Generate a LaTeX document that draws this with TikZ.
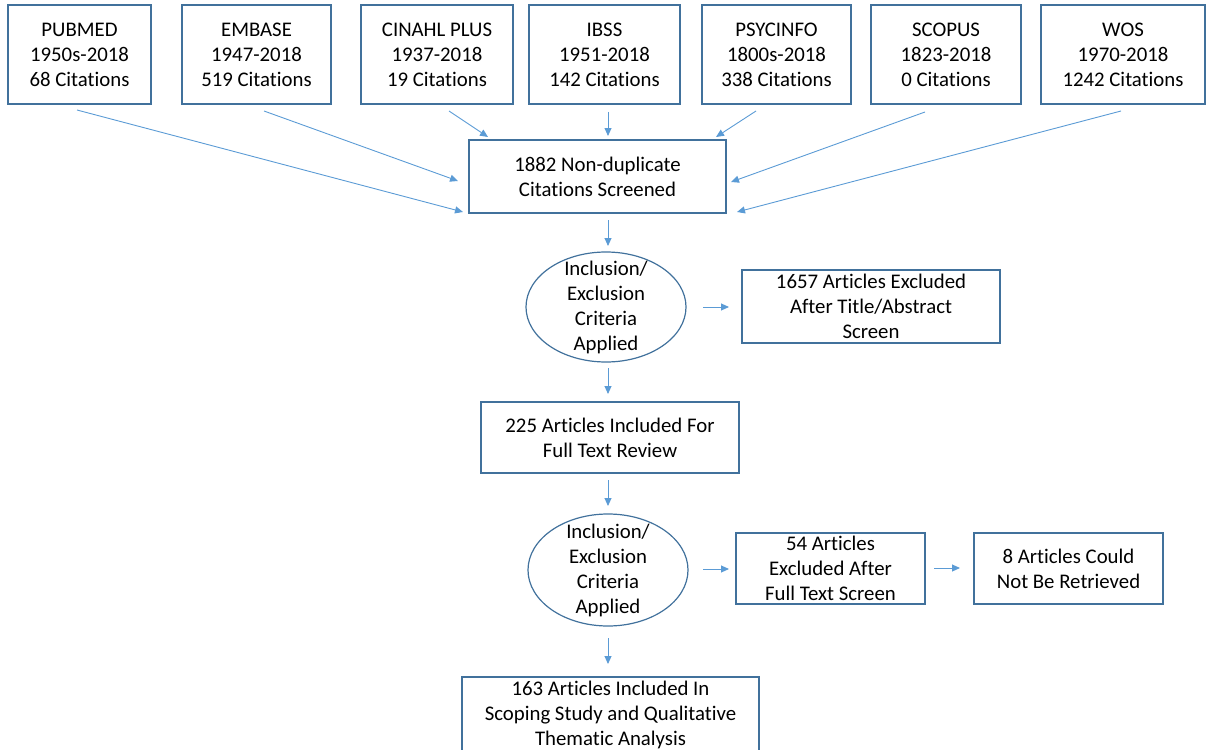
\documentclass[tikz,border=0pt]{standalone}
\usepackage{fontspec}
\setmainfont[Ligatures={NoCommon,NoContextual}]{Carlito}
\usetikzlibrary{arrows.meta,shapes.geometric}
\definecolor{boxc}{HTML}{41719C}
\definecolor{arrc}{HTML}{5B9BD5}
\tikzset{
  box/.style={draw=boxc,line width=1.2pt,rectangle,align=center,inner sep=0pt,font=\fontsize{20.8}{25}\selectfont},
  oval/.style={draw=boxc,line width=1.2pt,ellipse,inner sep=0pt},
  ovaltext/.style={align=center,inner sep=0pt,font=\fontsize{20.8}{25}\selectfont},
  arr/.style={draw=arrc,line width=0.9pt,-{Triangle[length=8pt,width=7pt]}},
}
\begin{document}
\begin{tikzpicture}[x=1pt,y=-1pt]
\useasboundingbox (0,0) rectangle (1206,749);
% top source boxes
\node[box,minimum width=143pt,minimum height=99pt] (pub) at (79.5,54.5) {PUBMED\\1950s-2018\\68 Citations};
\node[box,minimum width=149pt,minimum height=99pt] (emb) at (256.5,54.5) {EMBASE\\1947-2018\\519 Citations};
\node[box,minimum width=152pt,minimum height=99pt] (cin) at (437,54.5) {CINAHL PLUS\\1937-2018\\19 Citations};
\node[box,minimum width=151pt,minimum height=99pt] (ibs) at (604.5,54.5) {IBSS\\1951-2018\\142 Citations};
\node[box,minimum width=149pt,minimum height=99pt] (psy) at (776.5,54.5) {PSYCINFO\\1800s-2018\\338 Citations};
\node[box,minimum width=150pt,minimum height=99pt] (sco) at (946,54.5) {SCOPUS\\1823-2018\\0 Citations};
\node[box,minimum width=164pt,minimum height=99pt] (wos) at (1123,54.5) {WOS\\1970-2018\\1242 Citations};
% main flow
\node[box,minimum width=257pt,minimum height=73pt] (scr) at (597.5,176.5) {1882 Non-duplicate\\Citations Screened};
\node[oval,minimum width=160pt,minimum height=110pt] (inc1) at (606,307) {};
\node[ovaltext] (inc1t) at (inc1.center) {Inclusion/\\Exclusion\\Criteria\\Applied};
\node[box,minimum width=258pt,minimum height=73pt] (exc1) at (871,306.5) {1657 Articles Excluded\\After Title/Abstract\\Screen};
\node[box,minimum width=258pt,minimum height=71pt] (full) at (610,437.5) {225 Articles Included For\\Full Text Review};
\node[oval,minimum width=160pt,minimum height=112pt] (inc2) at (608,570) {};
\node[ovaltext] (inc2t) at (inc2.center) {Inclusion/\\Exclusion\\Criteria\\Applied};
\node[box,minimum width=189pt,minimum height=71pt] (exc2) at (830.5,568.5) {54 Articles\\Excluded After\\Full Text Screen};
\node[box,minimum width=189pt,minimum height=71pt] (ret) at (1068.5,568.5) {8 Articles Could\\Not Be Retrieved};
\node[box,minimum width=297pt,minimum height=76pt] (fin) at (610.5,715) {163 Articles Included In\\Scoping Study and Qualitative\\Thematic Analysis};
% arrow coordinates
\coordinate (a1s) at (77,110);   \coordinate (a1e) at (463,212);
\coordinate (a2s) at (264,111);  \coordinate (a2e) at (458,181);
\coordinate (a3s) at (449,111);  \coordinate (a3e) at (488,137);
\coordinate (a4s) at (608,112);  \coordinate (a4e) at (608,136);
\coordinate (a5s) at (756,111);  \coordinate (a5e) at (716,137);
\coordinate (a6s) at (925,112);  \coordinate (a6e) at (731,182);
\coordinate (a7s) at (1121,111); \coordinate (a7e) at (737,212);
\coordinate (b1s) at (608,220);  \coordinate (b1e) at (608,246);
\coordinate (b2s) at (703,307);  \coordinate (b2e) at (729,307);
\coordinate (b3s) at (608,368);  \coordinate (b3e) at (608,394);
\coordinate (b4s) at (608,480);  \coordinate (b4e) at (608,506);
\coordinate (b5s) at (703,569);  \coordinate (b5e) at (729,569);
\coordinate (b6s) at (934,568);  \coordinate (b6e) at (960,568);
\coordinate (b7s) at (608,638);  \coordinate (b7e) at (608,664);
\draw[arr] (a1s) -- (a1e);
\draw[arr] (a2s) -- (a2e);
\draw[arr] (a3s) -- (a3e);
\draw[arr] (a4s) -- (a4e);
\draw[arr] (a5s) -- (a5e);
\draw[arr] (a6s) -- (a6e);
\draw[arr] (a7s) -- (a7e);
\draw[arr] (b1s) -- (b1e);
\draw[arr] (b2s) -- (b2e);
\draw[arr] (b3s) -- (b3e);
\draw[arr] (b4s) -- (b4e);
\draw[arr] (b5s) -- (b5e);
\draw[arr] (b6s) -- (b6e);
\draw[arr] (b7s) -- (b7e);
\end{tikzpicture}
\end{document}
